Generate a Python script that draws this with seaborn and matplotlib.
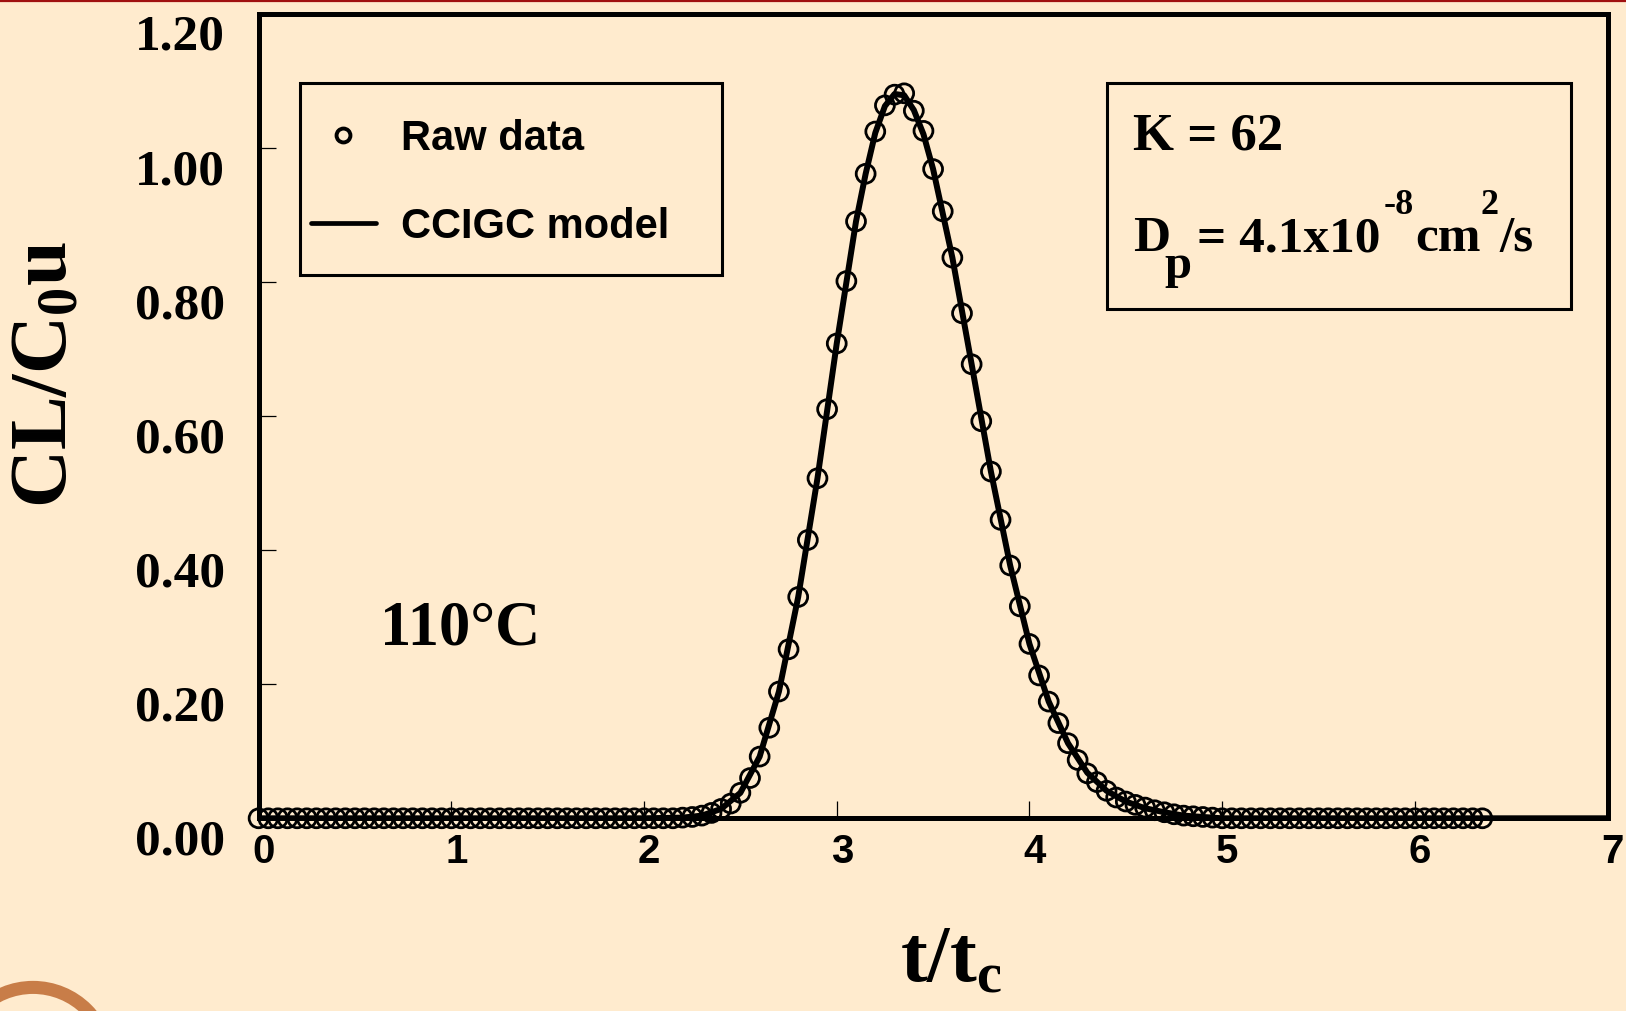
import numpy as np
import matplotlib
matplotlib.use("Agg")
import matplotlib.pyplot as plt
import matplotlib.transforms as mtransforms
from matplotlib.lines import Line2D
from matplotlib.patches import Rectangle, Circle
import seaborn as sns

# ---------------- data ----------------
t_raw = [0.00, 0.05, 0.10, 0.15, 0.20, 0.25, 0.30, 0.35, 0.40, 0.45,
         0.50, 0.55, 0.60, 0.65, 0.70, 0.75, 0.80, 0.85, 0.90, 0.95,
         1.00, 1.05, 1.10, 1.15, 1.20, 1.25, 1.30, 1.35, 1.40, 1.45,
         1.50, 1.55, 1.60, 1.65, 1.70, 1.75, 1.80, 1.85, 1.90, 1.95,
         2.00, 2.05, 2.10, 2.15, 2.20, 2.25, 2.30, 2.35, 2.40, 2.45,
         2.50, 2.55, 2.60, 2.65, 2.70, 2.75, 2.80, 2.85, 2.90, 2.95,
         3.00, 3.05, 3.10, 3.15, 3.20, 3.25, 3.30, 3.35, 3.40, 3.45,
         3.50, 3.55, 3.60, 3.65, 3.70, 3.75, 3.80, 3.85, 3.90, 3.95,
         4.00, 4.05, 4.10, 4.15, 4.20, 4.25, 4.30, 4.35, 4.40, 4.45,
         4.50, 4.55, 4.60, 4.65, 4.70, 4.75, 4.80, 4.85, 4.90, 4.95,
         5.00, 5.05, 5.10, 5.15, 5.20, 5.25, 5.30, 5.35, 5.40, 5.45,
         5.50, 5.55, 5.60, 5.65, 5.70, 5.75, 5.80, 5.85, 5.90, 5.95,
         6.00, 6.05, 6.10, 6.15, 6.20, 6.25, 6.30, 6.35]
c_raw = [0.000, 0.000, 0.000, 0.000, 0.000, 0.000, 0.000, 0.000, 0.000, 0.000,
         0.000, 0.000, 0.000, 0.000, 0.000, 0.000, 0.000, 0.000, 0.000, 0.000,
         0.000, 0.000, 0.000, 0.000, 0.000, 0.000, 0.000, 0.000, 0.000, 0.000,
         0.000, 0.000, 0.000, 0.000, 0.000, 0.000, 0.000, 0.000, 0.000, 0.000,
         0.000, 0.000, 0.000, 0.000, 0.001, 0.002, 0.004, 0.008, 0.014, 0.022,
         0.038, 0.060, 0.092, 0.135, 0.189, 0.252, 0.330, 0.415, 0.507, 0.610,
         0.708, 0.801, 0.890, 0.961, 1.024, 1.063, 1.079, 1.081, 1.055, 1.025,
         0.968, 0.905, 0.836, 0.753, 0.677, 0.592, 0.517, 0.445, 0.377, 0.316,
         0.260, 0.213, 0.174, 0.142, 0.112, 0.087, 0.067, 0.054, 0.041, 0.031,
         0.025, 0.020, 0.016, 0.012, 0.009, 0.006, 0.004, 0.003, 0.002, 0.001,
         0.000, 0.000, 0.000, 0.000, 0.000, 0.000, 0.000, 0.000, 0.000, 0.000,
         0.000, 0.000, 0.000, 0.000, 0.000, 0.000, 0.000, 0.000, 0.000, 0.000,
         0.000, 0.000, 0.000, 0.000, 0.000, 0.000, 0.000, 0.000]

t_model = [0.00, 1.00, 2.00, 2.20, 2.30, 2.40, 2.50, 2.60, 2.70, 2.80,
           2.90, 3.00, 3.10, 3.15, 3.20, 3.25, 3.30, 3.35, 3.40, 3.45,
           3.50, 3.60, 3.70, 3.80, 3.90, 4.00, 4.10, 4.20, 4.30, 4.40,
           4.50, 4.60, 4.70, 4.80, 4.90, 5.00, 6.00, 7.00]
c_model = [0.000, 0.000, 0.000, 0.001, 0.004, 0.014, 0.038, 0.092, 0.189, 0.330,
           0.507, 0.708, 0.890, 0.961, 1.022, 1.062, 1.080, 1.078, 1.056, 1.020,
           0.968, 0.836, 0.677, 0.517, 0.377, 0.260, 0.174, 0.112, 0.068, 0.041,
           0.025, 0.015, 0.009, 0.004, 0.002, 0.000, 0.000, 0.000]

x_ticks = [0, 1, 2, 3, 4, 5, 6, 7]
y_ticks = [0.0, 0.2, 0.4, 0.6, 0.8, 1.0, 1.2]
y_ticklabels = ["0.00", "0.20", "0.40", "0.60", "0.80", "1.00", "1.20"]
legend_labels = ["Raw data", "CCIGC model"]

BG = "#FFEBCE"

# ---------------- style ----------------
sns.set_theme(style="ticks")
plt.rcParams["font.family"] = ["Liberation Serif", "DejaVu Serif"]
plt.rcParams["text.color"] = "black"
plt.rcParams["mathtext.fontset"] = "custom"
plt.rcParams["mathtext.rm"] = "Liberation Serif:bold"
plt.rcParams["mathtext.bf"] = "Liberation Serif:bold"
plt.rcParams["mathtext.it"] = "Liberation Serif:bold"
plt.rcParams["mathtext.default"] = "bf"

W, H, DPI = 1626, 1012, 100
fig = plt.figure(figsize=(W / DPI, H / DPI), dpi=DPI, facecolor=BG)
AX_W = 1349.0
AX_H = 819.3 - 14.5
ax = fig.add_axes([258.6 / W, 1 - 819.3 / H, AX_W / W, AX_H / H])
ax.set_facecolor(BG)


def ax_x(px):
    return (px - 258.6) / AX_W


def ax_y(py):
    return (819.3 - py) / AX_H


# model line
sns.lineplot(x=t_model, y=c_model, ax=ax, color="black", linewidth=4.3,
             legend=False, zorder=2)
# raw data: open circles
sns.scatterplot(x=t_raw, y=c_raw, ax=ax, marker="o", s=185,
                facecolors="none", edgecolor="black", linewidth=2.0,
                legend=False, zorder=3, clip_on=False)

ax.set_xlim(0, 7)
ax.set_ylim(0, 1.2)

for sp in ax.spines.values():
    sp.set_visible(True)
    sp.set_linewidth(3.6)
    sp.set_color("black")
    sp.set_zorder(4)

ax.set_xticks(x_ticks)
ax.set_xticklabels([str(v) for v in x_ticks])
ax.set_yticks(y_ticks)
ax.set_yticklabels(y_ticklabels)
ax.tick_params(axis="both", direction="in", length=12, width=0.9,
               color="black", labelcolor="black", top=False, right=False)
ax.tick_params(axis="x", pad=10)
ax.tick_params(axis="y", pad=24)
for lab in ax.get_xticklabels():
    lab.set_fontfamily(["Liberation Sans", "DejaVu Sans"])
    lab.set_fontweight("bold")
    lab.set_fontsize(29)
    lab.set_transform(lab.get_transform() +
                      mtransforms.ScaledTranslation(5 / DPI, 0, fig.dpi_scale_trans))
for lab in ax.get_yticklabels():
    lab.set_fontfamily(["Liberation Serif", "DejaVu Serif"])
    lab.set_fontweight("bold")
    lab.set_fontsize(37)
    lab.set_transform(lab.get_transform() +
                      mtransforms.ScaledTranslation(0, -18 / DPI, fig.dpi_scale_trans))
ax.set_xlabel("")
ax.set_ylabel("")

# axis titles
fig.text(47 / W, 1 - 374 / H, r"$\mathbf{CL/C_0u}$", rotation=90,
         ha="center", va="center", fontsize=58, color="black")
fig.text(951 / W, 1 - 962 / H, r"$\mathbf{t/t_c}$",
         ha="center", va="center", fontsize=58, color="black")

# temperature annotation
ax.text(1.045, 0.283, "110°C", ha="center", va="center",
        fontsize=45, fontweight="bold", color="black")

# legend: entries from matplotlib's legend, frame drawn as a separate box
handles = [
    Line2D([], [], marker="o", linestyle="none", markerfacecolor="none",
           markeredgecolor="black", markersize=10, markeredgewidth=2.8),
    Line2D([], [], color="black", linewidth=3.4),
]
leg = ax.legend(handles, legend_labels, loc="upper left",
                bbox_to_anchor=(ax_x(311), ax_y(119.5)),
                borderaxespad=0, frameon=False,
                prop=dict(family="Liberation Sans", weight="bold", size=30),
                handlelength=1.55, handletextpad=0.6, labelspacing=1.15,
                borderpad=0.0)
for txt in leg.get_texts():
    txt.set_color("black")
ax.add_patch(Rectangle((ax_x(299.7), ax_y(276)), ax_x(721.8) - ax_x(299.7),
                       ax_y(84) - ax_y(276), transform=ax.transAxes, fill=False,
                       edgecolor="black", linewidth=2.2, clip_on=False, zorder=5))

# parameter box
ax.add_patch(Rectangle((ax_x(1107), ax_y(310)), ax_x(1571) - ax_x(1107),
                       ax_y(84) - ax_y(310), transform=ax.transAxes, fill=False,
                       edgecolor="black", linewidth=2.2, clip_on=False, zorder=5))
bold = dict(fontweight="bold", color="black", family="Liberation Serif")
ax.text(ax_x(1133), ax_y(136), "K = 62",
        transform=ax.transAxes, ha="left", va="center", fontsize=38, **bold)

# D_p = 4.1x10^-8 cm^2/s, built piece by piece
pD = ax.text(ax_x(1133), ax_y(262), "D",
             transform=ax.transAxes, ha="left", va="bottom", fontsize=37, **bold)
pp = ax.annotate("p", xy=(1, 0), xycoords=pD, xytext=(-4, -19),
                 textcoords="offset points", ha="left", va="bottom",
                 fontsize=35, **bold)
peq = ax.annotate("= 4.1x10", xy=(1, 0), xycoords=(pp, pD), xytext=(4, 0),
                  textcoords="offset points", ha="left", va="bottom",
                  fontsize=37, **bold)
pm8 = ax.annotate("-8", xy=(1, 0), xycoords=(peq, pD), xytext=(2, 29),
                  textcoords="offset points", ha="left", va="bottom",
                  fontsize=26, **bold)
pcm = ax.annotate("cm", xy=(1, 0), xycoords=(pm8, pD), xytext=(1, 0),
                  textcoords="offset points", ha="left", va="bottom",
                  fontsize=37, **bold)
p2 = ax.annotate("2", xy=(1, 0), xycoords=(pcm, pD), xytext=(0, 29),
                 textcoords="offset points", ha="left", va="bottom",
                 fontsize=26, **bold)
ps = ax.annotate("/s", xy=(1, 0), xycoords=(p2, pD), xytext=(1, 0),
                 textcoords="offset points", ha="left", va="bottom",
                 fontsize=37, **bold)

# decorative slide elements: thin red rule at top, brown ring bottom-left
fig.add_artist(Line2D([0, 1], [1 - 1.5 / H, 1 - 1.5 / H], transform=fig.transFigure,
                      color="#A01010", linewidth=1.6))
fig.add_artist(Circle((0.33, -0.524), 0.76, transform=fig.dpi_scale_trans,
                      fill=False, edgecolor="#C87D48", linewidth=9.4, clip_on=False))

fig.savefig("out.png", dpi=DPI, facecolor=BG)
